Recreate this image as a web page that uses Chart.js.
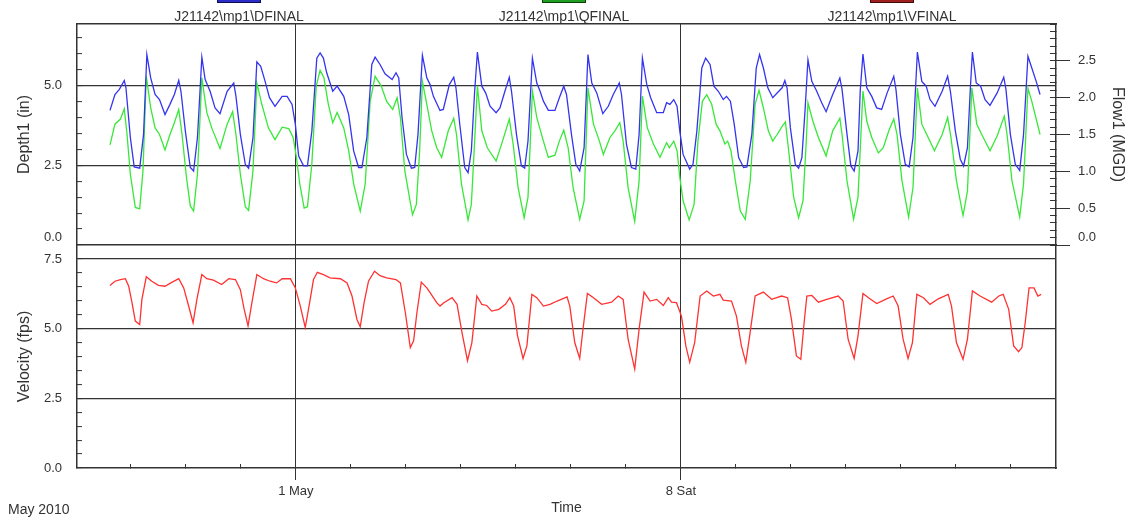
<!DOCTYPE html>
<html>
<head>
<meta charset="utf-8">
<title>J21142 mp1 - depth, flow and velocity</title>
<script src="https://cdn.jsdelivr.net/npm/chart.js@4.4.1/dist/chart.umd.min.js"></script>
<style>
  html, body { margin: 0; padding: 0; background: #fff; }
  #wrap {
    position: relative; width: 1135px; height: 521px; overflow: hidden;
    font-family: "Liberation Sans", Arial, sans-serif; color: #333;
  }
  #wrap canvas { position: absolute; left: 0; top: 0; }
  .legend-box { position: absolute; top: -5px; width: 42px; height: 6px; border: 1px solid #111; }
  .legend-text {
    position: absolute; top: 8px; width: 300px; margin-left: -150px;
    text-align: center; font-size: 14px; line-height: 16px;
  }
  #dateNote { position: absolute; left: 8px; top: 501px; font-size: 14px; line-height: 16px; }
</style>
</head>
<body>
<div id="wrap">
  <canvas id="velocityChart" width="1135" height="521"></canvas>
  <canvas id="depthFlowChart" width="1135" height="521"></canvas>
  <div id="dateNote">May 2010</div>
</div>
<script>
// x values are days counted from 1 May 2010 00:00
const depthDays = [
  -3.38, -3.29, -3.21, -3.12, -3.09, -3.01, -2.94, -2.84, -2.77,
  -2.71, -2.64, -2.56, -2.48, -2.38, -2.29, -2.21, -2.13, -2.09, -2.01, -1.92, -1.86, -1.79,
  -1.71, -1.65, -1.56, -1.47, -1.38, -1.25, -1.13, -1.09, -1.01, -0.92, -0.86, -0.78,
  -0.71, -0.64, -0.56, -0.48, -0.38, -0.25, -0.16, -0.07, -0.01, 0.05, 0.14, 0.21, 0.29,
  0.38, 0.44, 0.50, 0.56, 0.67, 0.75, 0.87, 0.96, 1.05, 1.14, 1.20, 1.29,
  1.38, 1.44, 1.53, 1.62, 1.75, 1.82, 1.87, 1.93, 2.01, 2.10, 2.16, 2.22,
  2.30, 2.38, 2.44, 2.50, 2.62, 2.68, 2.79, 2.87, 2.91, 2.98, 3.07, 3.13, 3.19, 3.25,
  3.30, 3.38, 3.45, 3.53, 3.64, 3.71, 3.80, 3.88, 3.92, 4.01, 4.10, 4.16, 4.22,
  4.30, 4.38, 4.44, 4.50, 4.59, 4.71, 4.79, 4.87, 4.92, 5.01, 5.09, 5.16, 5.24,
  5.31, 5.38, 5.47, 5.58, 5.68, 5.77, 5.88, 5.92, 6.01, 6.10, 6.18, 6.24,
  6.30, 6.38, 6.45, 6.56, 6.68, 6.74, 6.80, 6.87, 6.93, 6.98, 7.04, 7.16, 7.22, 7.29,
  7.38, 7.45, 7.53, 7.60, 7.68, 7.77, 7.83, 7.90, 7.97, 8.05, 8.14, 8.20, 8.29,
  8.37, 8.43, 8.50, 8.58, 8.67, 8.78, 8.84, 8.89, 8.93, 8.99, 9.08, 9.14, 9.20, 9.26,
  9.31, 9.38, 9.47, 9.56, 9.64, 9.76, 9.89, 9.93, 10.02, 10.09, 10.15, 10.22, 10.26,
  10.31, 10.38, 10.47, 10.56, 10.65, 10.75, 10.87, 10.91, 10.99, 11.08, 11.15, 11.22,
  11.30, 11.38, 11.46, 11.53, 11.62, 11.75, 11.85, 11.90, 11.99, 12.08, 12.14, 12.21, 12.26,
  12.30, 12.37, 12.45, 12.53, 12.62, 12.75, 12.87, 12.91, 12.99, 13.08, 13.16, 13.23,
  13.31, 13.38, 13.46, 13.53
];
const depthInches = [
  4.22, 4.72, 4.88, 5.16, 4.93, 3.37, 2.45, 2.41, 3.47,
  5.97, 5.24, 4.72, 4.56, 4.09, 4.41, 4.72, 5.16, 4.82, 3.57, 2.43, 2.32, 3.37,
  5.89, 5.19, 4.82, 4.30, 4.12, 4.82, 5.08, 4.66, 3.47, 2.53, 2.41, 3.37,
  5.74, 5.60, 5.13, 4.62, 4.35, 4.66, 4.66, 4.41, 3.78, 2.79, 2.48, 2.48, 3.57,
  5.86, 6.02, 5.86, 5.40, 4.82, 4.98, 4.66, 4.09, 2.95, 2.43, 2.43, 3.37,
  5.66, 5.89, 5.66, 5.37, 5.19, 5.40, 5.24, 3.99, 2.84, 2.41, 2.43, 3.47,
  5.95, 5.24, 5.03, 4.66, 4.22, 4.25, 5.03, 5.26, 4.93, 3.78, 2.43, 2.27, 2.95, 4.82,
  6.05, 4.98, 4.77, 4.35, 4.15, 4.30, 4.82, 5.26, 4.82, 3.47, 2.48, 2.41, 3.26,
  5.86, 5.08, 4.82, 4.51, 4.22, 4.22, 4.62, 4.98, 4.72, 3.47, 2.53, 2.32, 3.05,
  5.97, 5.08, 4.77, 4.12, 4.35, 4.72, 5.08, 4.72, 3.16, 2.43, 2.38, 3.47,
  5.86, 5.03, 4.62, 4.15, 4.15, 4.46, 4.41, 4.56, 4.35, 3.57, 2.84, 2.38, 2.53, 3.57,
  5.55, 5.86, 5.66, 4.98, 4.82, 4.56, 4.66, 4.51, 3.78, 2.74, 2.43, 2.45, 3.47,
  5.55, 5.97, 5.55, 4.93, 4.62, 4.82, 4.93, 5.16, 4.93, 3.68, 2.53, 2.41, 2.74, 4.30,
  5.81, 5.13, 4.82, 4.46, 4.18, 4.72, 5.24, 4.88, 3.47, 2.48, 2.32, 2.95, 4.82,
  5.99, 4.93, 4.66, 4.30, 4.25, 4.77, 5.29, 4.88, 3.47, 2.53, 2.45, 3.37,
  6.05, 5.13, 4.98, 4.56, 4.35, 4.82, 5.29, 4.82, 3.57, 2.69, 2.48, 3.05, 4.82,
  6.05, 5.08, 4.98, 4.56, 4.38, 4.77, 5.26, 4.88, 3.47, 2.53, 2.34, 3.47,
  5.92, 5.55, 5.13, 4.72
];

const flowDays = [
  -3.38, -3.29, -3.19, -3.12, -3.07, -3.01, -2.92, -2.84, -2.78,
  -2.72, -2.64, -2.56, -2.48, -2.38, -2.29, -2.21, -2.13, -2.07, -1.99, -1.92, -1.86, -1.79,
  -1.71, -1.62, -1.53, -1.38, -1.25, -1.15, -1.09, -1.01, -0.92, -0.86, -0.78,
  -0.71, -0.62, -0.50, -0.38, -0.25, -0.13, -0.05, 0.01, 0.07, 0.15, 0.21, 0.29,
  0.37, 0.44, 0.51, 0.59, 0.67, 0.75, 0.87, 0.96, 1.05, 1.17, 1.26,
  1.35, 1.44, 1.55, 1.65, 1.76, 1.84, 1.90, 1.98, 2.12, 2.19, 2.25,
  2.30, 2.38, 2.47, 2.56, 2.65, 2.77, 2.87, 2.92, 3.01, 3.13, 3.19, 3.25,
  3.30, 3.38, 3.48, 3.64, 3.74, 3.88, 3.95, 4.04, 4.15, 4.22,
  4.30, 4.38, 4.50, 4.59, 4.71, 4.79, 4.87, 4.95, 5.04, 5.16, 5.24,
  5.31, 5.41, 5.51, 5.59, 5.71, 5.80, 5.89, 5.95, 6.04, 6.16, 6.24,
  6.30, 6.39, 6.50, 6.62, 6.74, 6.79, 6.87, 6.93, 6.98, 7.04, 7.15, 7.24, 7.31,
  7.39, 7.47, 7.56, 7.64, 7.71, 7.80, 7.85, 7.91, 7.99, 8.08, 8.17, 8.26,
  8.35, 8.42, 8.50, 8.59, 8.67, 8.75, 8.84, 8.90, 8.96, 9.05, 9.14, 9.22, 9.28,
  9.31, 9.40, 9.50, 9.64, 9.76, 9.89, 9.93, 10.02, 10.14, 10.22,
  10.31, 10.38, 10.47, 10.59, 10.68, 10.78, 10.87, 10.93, 11.02, 11.14, 11.22,
  11.30, 11.38, 11.47, 11.61, 11.75, 11.85, 11.91, 12.01, 12.13, 12.21,
  12.29, 12.38, 12.47, 12.62, 12.75, 12.88, 12.93, 13.02, 13.16, 13.23,
  13.31, 13.38, 13.53
];
const flowMgd = [
  1.36, 1.64, 1.71, 1.85, 1.50, 0.96, 0.51, 0.49, 1.01,
  2.29, 1.86, 1.59, 1.50, 1.29, 1.50, 1.66, 1.84, 1.50, 0.92, 0.53, 0.46, 0.96,
  2.27, 1.80, 1.59, 1.31, 1.64, 1.81, 1.50, 0.96, 0.52, 0.47, 1.01,
  2.20, 1.91, 1.59, 1.43, 1.60, 1.58, 1.46, 1.19, 0.83, 0.50, 0.52, 1.10,
  2.16, 2.37, 2.27, 1.91, 1.66, 1.80, 1.59, 1.28, 0.83, 0.46, 0.83,
  1.95, 2.29, 2.16, 1.95, 1.84, 2.00, 1.73, 1.01, 0.41, 0.55, 1.28,
  2.22, 1.91, 1.55, 1.32, 1.19, 1.55, 1.72, 1.50, 0.83, 0.34, 0.55, 1.41,
  2.16, 1.55, 1.32, 1.14, 1.37, 1.71, 1.37, 0.78, 0.37, 0.65,
  2.09, 1.73, 1.41, 1.19, 1.22, 1.41, 1.56, 1.32, 0.78, 0.35, 0.60,
  2.13, 1.64, 1.43, 1.23, 1.46, 1.55, 1.66, 1.41, 0.78, 0.32, 0.87,
  2.02, 1.59, 1.37, 1.19, 1.39, 1.32, 1.41, 1.28, 0.92, 0.60, 0.34, 0.55, 1.41,
  1.95, 2.04, 1.91, 1.64, 1.55, 1.37, 1.41, 1.28, 0.87, 0.46, 0.35, 0.87,
  1.91, 2.10, 1.86, 1.55, 1.41, 1.50, 1.61, 1.67, 1.28, 0.65, 0.37, 0.60, 1.41,
  1.93, 1.68, 1.46, 1.21, 1.55, 1.72, 1.50, 0.87, 0.35, 0.65,
  2.09, 1.68, 1.46, 1.25, 1.32, 1.55, 1.71, 1.50, 0.87, 0.38, 0.78,
  2.13, 1.64, 1.50, 1.28, 1.50, 1.73, 1.46, 0.87, 0.40, 0.73,
  2.13, 1.64, 1.50, 1.28, 1.48, 1.75, 1.50, 0.87, 0.38, 0.83,
  2.13, 1.95, 1.50
];

const velDays = [
  -3.38, -3.29, -3.19, -3.10, -3.04, -2.98, -2.92, -2.84, -2.80,
  -2.72, -2.62, -2.50, -2.38, -2.25, -2.13, -2.04, -1.95, -1.87, -1.80,
  -1.71, -1.62, -1.50, -1.35, -1.22, -1.10, -1.01, -0.94, -0.87, -0.80,
  -0.71, -0.59, -0.47, -0.35, -0.25, -0.10, -0.01, 0.08, 0.17, 0.25, 0.32,
  0.39, 0.50, 0.62, 0.81, 0.93, 1.02, 1.11, 1.17, 1.24, 1.32,
  1.43, 1.53, 1.65, 1.82, 1.90, 1.99, 2.08, 2.14, 2.20,
  2.28, 2.38, 2.44, 2.56, 2.62, 2.69, 2.84, 2.93, 3.02, 3.12, 3.20,
  3.29, 3.38, 3.47, 3.56, 3.69, 3.81, 3.89, 3.96, 4.03, 4.13, 4.20,
  4.29, 4.38, 4.50, 4.62, 4.75, 4.93, 4.98, 5.07, 5.16, 5.22,
  5.30, 5.41, 5.56, 5.74, 5.86, 5.95, 6.04, 6.16, 6.24,
  6.33, 6.44, 6.56, 6.68, 6.77, 6.83, 6.92, 7.01, 7.09, 7.16, 7.25,
  7.35, 7.47, 7.59, 7.71, 7.77, 7.92, 8.01, 8.10, 8.18, 8.25,
  8.35, 8.50, 8.65, 8.83, 8.94, 9.01, 9.10, 9.18, 9.24,
  9.29, 9.38, 9.50, 9.65, 9.86, 9.95, 10.04, 10.15, 10.22,
  10.31, 10.41, 10.56, 10.74, 10.86, 10.95, 11.04, 11.13, 11.21,
  11.29, 11.41, 11.53, 11.68, 11.86, 11.92, 12.01, 12.13, 12.21,
  12.30, 12.44, 12.65, 12.78, 12.86, 12.96, 13.05, 13.14, 13.20, 13.26,
  13.33, 13.42, 13.49, 13.55
];
const velFps = [
  6.55, 6.70, 6.76, 6.79, 6.52, 5.93, 5.27, 5.15, 6.05,
  6.86, 6.70, 6.55, 6.52, 6.67, 6.79, 6.46, 5.81, 5.21, 6.05,
  6.94, 6.79, 6.74, 6.58, 6.79, 6.76, 6.40, 5.69, 5.10, 5.93,
  6.94, 6.79, 6.70, 6.64, 6.79, 6.79, 6.46, 5.81, 5.04, 5.93, 6.76,
  7.02, 6.94, 6.82, 6.79, 6.64, 6.17, 5.33, 5.07, 5.93, 6.70,
  7.06, 6.90, 6.82, 6.76, 6.64, 5.57, 4.32, 4.56, 5.57,
  6.67, 6.46, 6.29, 5.93, 5.81, 5.93, 6.11, 5.87, 4.86, 3.85, 4.50,
  6.17, 5.87, 5.83, 5.63, 5.69, 5.87, 6.11, 5.81, 4.74, 3.93, 4.38,
  6.23, 6.11, 5.81, 5.87, 5.99, 6.14, 5.81, 4.50, 3.93, 4.98,
  6.26, 6.11, 5.87, 5.95, 6.17, 6.05, 4.62, 3.55, 4.98,
  6.31, 5.99, 6.05, 5.83, 6.11, 5.95, 5.93, 5.45, 4.38, 3.79, 4.50,
  6.17, 6.35, 6.17, 6.23, 6.02, 5.99, 5.45, 4.38, 3.79, 4.74,
  6.17, 6.31, 6.05, 6.17, 6.11, 5.33, 4.02, 3.90, 5.21,
  6.17, 6.19, 5.95, 6.05, 6.17, 5.99, 4.62, 3.93, 4.74,
  6.26, 6.11, 5.90, 6.07, 6.17, 5.81, 4.62, 3.93, 4.50,
  6.23, 6.11, 5.87, 6.07, 6.23, 5.81, 4.50, 3.90, 4.62,
  6.35, 6.17, 5.95, 6.17, 6.23, 5.69, 4.38, 4.17, 4.32, 5.21,
  6.46, 6.46, 6.17, 6.23
];

const seriesNames = ["J21142\\mp1\\DFINAL", "J21142\\mp1\\QFINAL", "J21142\\mp1\\VFINAL"];
const weekTicks = [0, 7];
const weekLabels = ["1 May", "8 Sat"];
const depthTicks = [0, 0.5, 1, 1.5, 2, 2.5, 3, 3.5, 4, 4.5, 5, 5.5, 6, 6.5];
const depthLabelled = [0, 2.5, 5];
const flowTicks = [0, 0.5, 1, 1.5, 2, 2.5];
const velTicks = [0, 0.5, 1, 1.5, 2, 2.5, 3, 3.5, 4, 4.5, 5, 5.5, 6, 6.5, 7, 7.5];
const velLabelled = [0, 2.5, 5, 7.5];

// look and layout
const X_MIN = -3.98;
const X_MAX = 13.82;
const LINE = "#333";
const NONE = "rgba(0,0,0,0)";
const seriesColors = ["#3434f0", "#38e838", "#ff3232"];
const legendFills = [["#2b2bc8", "#0c0c50"], ["#1f9e1f", "#0b400b"], ["#a01e1e", "#400b0b"]];
const legendCenters = [239, 564, 892];

Chart.defaults.font.family = '"Liberation Sans", Arial, sans-serif';
Chart.defaults.color = LINE;

function toPoints(xs, ys) {
  return xs.map((x, i) => ({ x: x, y: ys[i] }));
}

function fixWidth(w) {
  return function (scale) {
    scale.width = w;
    scale.paddingTop = 0;
    scale.paddingBottom = 0;
  };
}

function fixHeight(h) {
  return function (scale) {
    scale.height = h;
    scale.paddingLeft = 0;
    scale.paddingRight = 0;
  };
}

function useTicks(list) {
  return function (scale) {
    scale.ticks = list.map((v) => ({ value: v }));
  };
}

// bottom label of the top panel sits a little above its tick
function valueLabel(labelled, liftZero) {
  return function (v) {
    if (!labelled.includes(v)) return "";
    if (v === 0 && liftZero) return ["0.0", ""];
    return v.toFixed(1);
  };
}

function gridOnLabels(labelled) {
  return function (ctx) {
    return ctx.tick && ctx.tick.value !== 0 && labelled.includes(ctx.tick.value) ? LINE : NONE;
  };
}

function lineSet(label, data, color, axisId) {
  return {
    label: label,
    data: data,
    yAxisID: axisId,
    borderColor: color,
    borderWidth: 1.3,
    pointRadius: 0,
    tension: 0,
    fill: false,
  };
}

function leftValueAxis(ticksList, labelled, max, title, liftZero) {
  return {
    type: "linear",
    position: "left",
    min: 0,
    max: max,
    afterBuildTicks: useTicks(ticksList),
    afterFit: fixWidth(77),
    ticks: {
      autoSkip: false,
      padding: 20,
      font: { size: 13 },
      callback: valueLabel(labelled, liftZero),
    },
    grid: {
      color: gridOnLabels(labelled),
      lineWidth: 1.2,
      tickColor: LINE,
      tickWidth: 1,
      tickLength: -5,
    },
    border: { display: true, color: LINE, width: 1.5 },
    title: { display: true, text: title, font: { size: 16 }, padding: { top: 15, bottom: 0 } },
  };
}

function buildLegend() {
  const wrap = document.getElementById("wrap");
  seriesNames.forEach((name, i) => {
    const box = document.createElement("div");
    box.className = "legend-box";
    box.style.left = legendCenters[i] - 22 + "px";
    box.style.background = legendFills[i][0];
    box.style.borderColor = legendFills[i][1];
    wrap.appendChild(box);

    const text = document.createElement("div");
    text.className = "legend-text";
    text.style.left = legendCenters[i] + "px";
    text.textContent = name;
    wrap.appendChild(text);
  });
}

const common = {
  responsive: false,
  animation: false,
  devicePixelRatio: 1,
  events: [],
  plugins: { legend: { display: false }, tooltip: { enabled: false } },
};

// Top panel: depth (left axis) and flow (right axis)
new Chart(document.getElementById("depthFlowChart"), {
  type: "line",
  data: {
    datasets: [
      lineSet(seriesNames[0], toPoints(depthDays, depthInches), seriesColors[0], "y"),
      lineSet(seriesNames[1], toPoints(flowDays, flowMgd), seriesColors[1], "yFlow"),
    ],
  },
  options: Object.assign({}, common, {
    layout: { padding: { top: 24, left: 0, right: 0, bottom: 0 } },
    scales: {
      x: {
        type: "linear",
        position: "bottom",
        min: X_MIN,
        max: X_MAX,
        afterBuildTicks: useTicks(weekTicks),
        afterFit: fixHeight(276),
        ticks: { display: false },
        grid: { color: LINE, lineWidth: 1, drawTicks: false },
        border: { display: true, color: LINE, width: 1.5 },
      },
      xTop: {
        type: "linear",
        position: "top",
        min: X_MIN,
        max: X_MAX,
        afterFit: fixHeight(0),
        ticks: { display: false },
        grid: { display: false },
        border: { display: true, color: LINE, width: 1.5 },
      },
      y: leftValueAxis(depthTicks, depthLabelled, 6.93, "Depth1 (in)", true),
      yFlowMinor: {
        type: "linear",
        position: "right",
        weight: 0,
        min: 0,
        max: 3,
        afterFit: fixWidth(0),
        ticks: { display: false, stepSize: 0.1, includeBounds: false, autoSkip: false },
        grid: { drawOnChartArea: false, tickColor: LINE, tickWidth: 1, tickLength: -6 },
        border: { display: true, color: LINE, width: 1.5 },
      },
      yFlow: {
        type: "linear",
        position: "right",
        weight: 1,
        min: 0,
        max: 3,
        afterBuildTicks: useTicks(flowTicks),
        afterFit: fixWidth(79),
        ticks: {
          autoSkip: false,
          padding: 8,
          font: { size: 13 },
          callback: valueLabel(flowTicks, true),
        },
        grid: { drawOnChartArea: false, tickColor: LINE, tickWidth: 1, tickLength: 14 },
        border: { display: false },
        title: { display: true, text: "Flow1 (MGD)", font: { size: 16 }, padding: { top: 8, bottom: 0 } },
      },
    },
  }),
});

// Bottom panel: velocity with the shared time axis
new Chart(document.getElementById("velocityChart"), {
  type: "line",
  data: {
    datasets: [lineSet(seriesNames[2], toPoints(velDays, velFps), seriesColors[2], "y")],
  },
  options: Object.assign({}, common, {
    layout: { padding: { top: 245, left: 0, right: 0, bottom: 0 } },
    scales: {
      x: {
        type: "linear",
        position: "bottom",
        weight: 0,
        min: X_MIN,
        max: X_MAX,
        afterFit: fixHeight(0),
        ticks: { display: false, stepSize: 1, includeBounds: false, autoSkip: false },
        grid: { drawOnChartArea: false, tickColor: LINE, tickWidth: 1, tickLength: -4 },
        border: { display: true, color: LINE, width: 1.5 },
      },
      xWeek: {
        type: "linear",
        position: "bottom",
        weight: 1,
        min: X_MIN,
        max: X_MAX,
        afterBuildTicks: useTicks(weekTicks),
        afterFit: fixHeight(53),
        ticks: {
          autoSkip: false,
          maxRotation: 0,
          padding: 4,
          font: { size: 13 },
          callback: (v, i) => weekLabels[i],
        },
        grid: { color: LINE, lineWidth: 1, tickColor: LINE, tickLength: 12 },
        border: { display: false },
        title: { display: true, text: "Time", font: { size: 14 }, padding: { top: 0, bottom: 4 } },
      },
      y: leftValueAxis(velTicks, velLabelled, 8, "Velocity (fps)", false),
      yRight: {
        type: "linear",
        position: "right",
        min: 0,
        max: 1,
        afterFit: fixWidth(79),
        ticks: { display: false },
        grid: { display: false },
        border: { display: true, color: LINE, width: 1.5 },
      },
    },
  }),
});

buildLegend();
</script>
</body>
</html>
